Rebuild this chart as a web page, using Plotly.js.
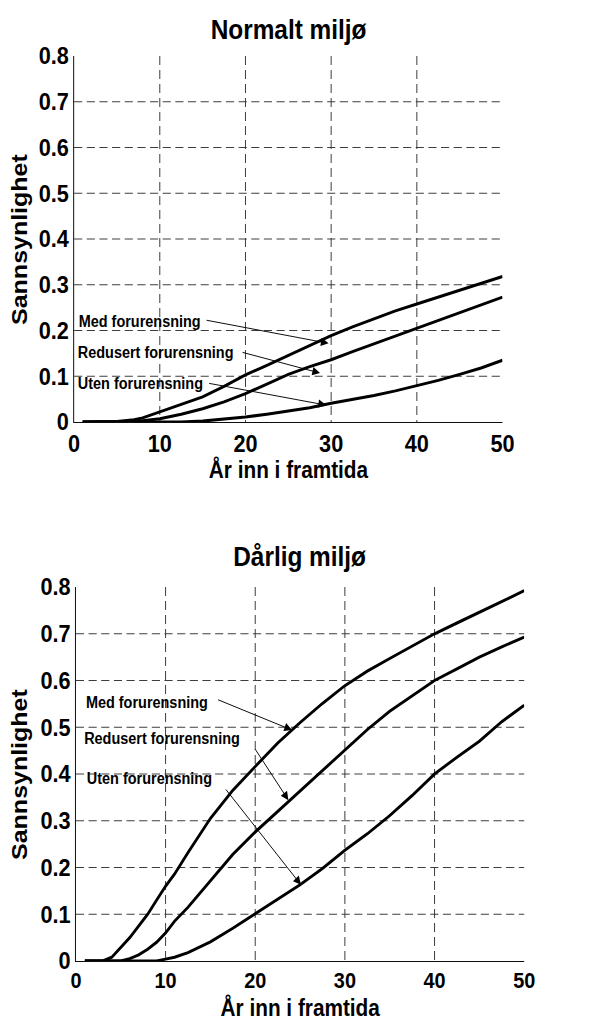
<!DOCTYPE html>
<html>
<head>
<meta charset="utf-8">
<script src="https://cdn.plot.ly/plotly-3.0.1.min.js"></script>
<style>
html,body{margin:0;padding:0;background:#fff;overflow:hidden;width:592px;height:1021px;}
#chart{width:655px;height:1021px;transform:scale(0.9038,1);transform-origin:0 0;}
</style>
</head>
<body>
<div id="chart"></div>
<script>
// Top chart: Normalt miljø
const yearsTop = [1, 3, 5, 7, 8, 10, 12.5, 15, 17.5, 20, 22.5, 25, 27.5, 30, 32.5, 35, 37.5, 40, 42.5, 45, 47.5, 50];
const normMed =  [0, 0, 0.001, 0.005, 0.009, 0.022, 0.038, 0.055, 0.078, 0.103, 0.124, 0.146, 0.168, 0.189, 0.208, 0.226, 0.243, 0.258, 0.273, 0.288, 0.303, 0.318];
const normRed =  [0, 0, 0, 0.001, 0.003, 0.007, 0.017, 0.029, 0.044, 0.062, 0.083, 0.104, 0.121, 0.136, 0.154, 0.171, 0.189, 0.206, 0.223, 0.240, 0.257, 0.273];
const normUten = [0, 0, 0, 0, 0, 0, 0, 0.002, 0.006, 0.011, 0.017, 0.024, 0.031, 0.041, 0.049, 0.058, 0.068, 0.079, 0.091, 0.104, 0.118, 0.135];

// Bottom chart: Dårlig miljø
const yearsBot = [1, 3, 4, 5, 6, 7, 8, 9, 10, 11, 12.5, 15, 17.5, 20, 22.5, 25, 27.5, 30, 32.5, 35, 37.5, 40, 42.5, 45, 47.5, 50];
const darMed =  [0, 0, 0.008, 0.028, 0.050, 0.075, 0.100, 0.130, 0.160, 0.186, 0.232, 0.305, 0.365, 0.416, 0.466, 0.510, 0.551, 0.589, 0.620, 0.647, 0.674, 0.700, 0.723, 0.746, 0.770, 0.792];
const darRed =  [0, 0, 0, 0, 0.005, 0.013, 0.025, 0.040, 0.060, 0.085, 0.115, 0.172, 0.228, 0.276, 0.320, 0.363, 0.407, 0.450, 0.495, 0.534, 0.567, 0.600, 0.625, 0.650, 0.672, 0.693];
const darUten = [0, 0, 0, 0, 0, 0, 0, 0, 0.004, 0.008, 0.018, 0.041, 0.070, 0.101, 0.133, 0.163, 0.198, 0.237, 0.272, 0.311, 0.354, 0.400, 0.436, 0.470, 0.512, 0.547];

const titles = ['Normalt miljø', 'Dårlig miljø'];
const seriesNames = ['Med forurensning', 'Redusert forurensning', 'Uten forurensning'];
const xTickVals = [0, 10, 20, 30, 40, 50];
const yTickVals = [0, 0.1, 0.2, 0.3, 0.4, 0.5, 0.6, 0.7, 0.8];
const yTickText = ['0', '0.1', '0.2', '0.3', '0.4', '0.5', '0.6', '0.7', '0.8'];
const xTitle = 'År inn i framtida';
const yTitle = 'Sannsynlighet';

// label anchors, arrow tails and arrow heads, in data units
const topLabelPos = [[0.3, 0.219], [0.2, 0.151], [0.2, 0.085]];
const topArrowTails = [[15.3, 0.223], [19.5, 0.153], [15.6, 0.085]];
const topArrowHeads = [[29.7, 0.172], [28.7, 0.107], [29.4, 0.037]];
const botLabelPos = [[0.9, 0.554], [0.7, 0.475], [1.0, 0.391]];
const botArrowTails = [[15.7, 0.560], [19.9, 0.456], [16.6, 0.370]];
const botArrowHeads = [[24.1, 0.494], [23.7, 0.344], [25.1, 0.163]];

const FONT = '"Liberation Sans", Arial, Helvetica, sans-serif';
const line = {color: '#000', width: 3, shape: 'linear'};

const traces = [];
[normMed, normRed, normUten].forEach((ys, i) => traces.push({x: yearsTop, y: ys, type: 'scatter', mode: 'lines', name: seriesNames[i], line: line, xaxis: 'x', yaxis: 'y'}));
[darMed, darRed, darUten].forEach((ys, i) => traces.push({x: yearsBot, y: ys, type: 'scatter', mode: 'lines', name: seriesNames[i], line: line, xaxis: 'x2', yaxis: 'y2'}));

function xAxis(domain, anchor, fsize) {
  return {
    domain: domain, anchor: anchor, range: [0, 50], tickvals: xTickVals,
    showgrid: true, gridcolor: '#333', griddash: '9px,5px', gridwidth: 1,
    showline: true, linecolor: '#000', linewidth: 1, zeroline: false,
    ticks: '', ticklabelstandoff: 0,
    tickfont: {family: FONT, size: fsize, color: '#000', weight: 700},
    automargin: false, fixedrange: true
  };
}
function yAxis(domain, anchor) {
  return {
    domain: domain, anchor: anchor, range: [0, 0.8], tickvals: yTickVals, ticktext: yTickText,
    showgrid: true, gridcolor: '#333', griddash: '9px,5px', gridwidth: 1,
    showline: true, linecolor: '#000', linewidth: 1, zeroline: false,
    ticks: '', ticklabelstandoff: 0,
    tickfont: {family: FONT, size: 24, color: '#000', weight: 700},
    automargin: false, fixedrange: true
  };
}

const W = 655, H = 1021;
const panels = [
  {x0: 82, x1: 556, y0: 56, y1: 422, xref: 'x', yref: 'y', labels: topLabelPos, tails: topArrowTails, heads: topArrowHeads, titleY: 30, xTitleY: 469},
  {x0: 84, x1: 580, y0: 587, y1: 961, xref: 'x2', yref: 'y2', labels: botLabelPos, tails: botArrowTails, heads: botArrowHeads, titleY: 557, xTitleY: 1007}
];
const bold = (size) => ({family: FONT, size: size, color: '#000', weight: 700});
const annotations = [];
panels.forEach((p, idx) => {
  const cx = (p.x0 + p.x1) / 2 / W;
  annotations.push({text: titles[idx], xref: 'paper', yref: 'paper', x: cx, y: 1 - p.titleY / H,
    xanchor: 'center', yanchor: 'middle', showarrow: false, font: bold(27)});
  annotations.push({text: xTitle, xref: 'paper', yref: 'paper', x: cx, y: 1 - p.xTitleY / H,
    xanchor: 'center', yanchor: 'middle', showarrow: false, font: bold(23)});
  annotations.push({text: yTitle, xref: 'paper', yref: 'paper', x: 21 / W, y: 1 - (p.y0 + p.y1) / 2 / H,
    xanchor: 'center', yanchor: 'middle', textangle: -90, showarrow: false, font: bold(25)});
  for (let i = 0; i < 3; i++) {
    annotations.push({text: seriesNames[i], xref: p.xref, yref: p.yref, x: p.labels[i][0], y: p.labels[i][1],
      xanchor: 'left', yanchor: 'middle', showarrow: false, font: bold(16)});
    annotations.push({text: '', xref: p.xref, yref: p.yref, x: p.heads[i][0], y: p.heads[i][1],
      axref: p.xref, ayref: p.yref, ax: p.tails[i][0], ay: p.tails[i][1],
      showarrow: true, arrowhead: 2, arrowsize: 1.7, arrowwidth: 1, arrowcolor: '#000',
      standoff: 0, startstandoff: 0});
  }
});

const layout = {
  width: W, height: H,
  margin: {l: 0, r: 0, t: 0, b: 0},
  paper_bgcolor: '#fff', plot_bgcolor: '#fff',
  showlegend: false,
  xaxis: xAxis([panels[0].x0 / W, panels[0].x1 / W], 'y', 24),
  yaxis: yAxis([1 - panels[0].y1 / H, 1 - panels[0].y0 / H], 'x'),
  xaxis2: xAxis([panels[1].x0 / W, panels[1].x1 / W], 'y2', 22),
  yaxis2: yAxis([1 - panels[1].y1 / H, 1 - panels[1].y0 / H], 'x2'),
  annotations: annotations
};

Plotly.newPlot('chart', traces, layout, {displayModeBar: false, staticPlot: true});
</script>
</body>
</html>
